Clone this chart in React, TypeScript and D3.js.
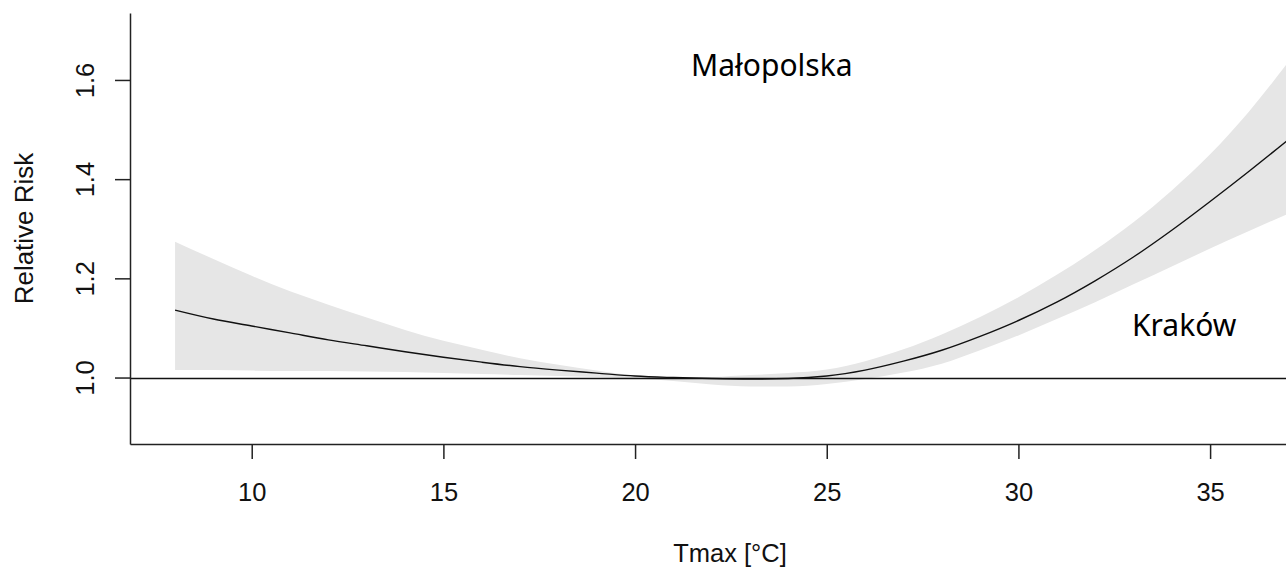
import React, { useEffect, useRef } from "react";
import * as d3 from "d3";

// ---- data ----
const tmax = [8, 9, 10, 11, 12, 13, 14, 15, 16, 17, 18, 19, 20, 21, 22, 23, 24, 25, 26, 27, 28, 29, 30, 31, 32, 33, 34, 35, 36, 37];
const rr = [1.136, 1.118, 1.104, 1.09, 1.076, 1.064, 1.052, 1.041, 1.031, 1.022, 1.015, 1.009, 1.003, 1.0, 0.998, 0.997, 0.998, 1.003, 1.015, 1.033, 1.055, 1.083, 1.115, 1.152, 1.195, 1.243, 1.297, 1.355, 1.415, 1.477];
const rrHigh = [1.274, 1.239, 1.205, 1.174, 1.147, 1.121, 1.096, 1.074, 1.056, 1.039, 1.026, 1.014, 1.004, 1.0, 1.001, 1.005, 1.009, 1.016, 1.033, 1.057, 1.087, 1.122, 1.162, 1.207, 1.257, 1.313, 1.377, 1.45, 1.535, 1.632];
const rrLow = [1.015, 1.015, 1.014, 1.013, 1.013, 1.012, 1.011, 1.009, 1.007, 1.005, 1.003, 1.001, 0.998, 0.993, 0.986, 0.982, 0.982, 0.987, 0.997, 1.01, 1.028, 1.055, 1.085, 1.118, 1.152, 1.188, 1.224, 1.26, 1.295, 1.329];
const xTicks = [10, 15, 20, 25, 30, 35];
const yTicks = [1.0, 1.2, 1.4, 1.6];
const xDomain = [6.825, 36.98];
const yDomain = [0.866, 1.735];
const refValue = 1.0;
const xTitle = "Tmax [°C]";
const yTitle = "Relative Risk";
const regionLabel = "Małopolska";
const cityLabel = "Kraków";

const W = 1286;
const H = 572;

export default function App() {
  const ref = useRef<SVGSVGElement | null>(null);

  useEffect(() => {
    document.body.style.margin = "0";
    const svg = d3.select(ref.current);
    svg.selectAll("*").remove();

    const x = d3.scaleLinear().domain(xDomain).range([130, 1286]);
    const y = d3.scaleLinear().domain(yDomain).range([444, 13]);

    const pts = tmax.map((t, i) => ({ t, m: rr[i], lo: rrLow[i], hi: rrHigh[i] }));

    const area = d3
      .area<any>()
      .x((d) => x(d.t))
      .y0((d) => y(d.lo))
      .y1((d) => y(d.hi))
      .curve(d3.curveMonotoneX);
    svg.append("path").attr("d", area(pts)).attr("fill", "#e6e6e6").attr("stroke", "none");

    const line = d3
      .line<any>()
      .x((d) => x(d.t))
      .y((d) => y(d.m))
      .curve(d3.curveMonotoneX);
    svg.append("path").attr("d", line(pts)).attr("fill", "none").attr("stroke", "#111").attr("stroke-width", 1.4);

    svg
      .append("line")
      .attr("x1", 130)
      .attr("x2", W)
      .attr("y1", Math.round(y(refValue)) + 0.5)
      .attr("y2", Math.round(y(refValue)) + 0.5)
      .attr("stroke", "#111")
      .attr("stroke-width", 1.4);

    const font = "'Liberation Sans', Arial, sans-serif";

    const gx = svg
      .append("g")
      .attr("transform", "translate(0,444)")
      .call(d3.axisBottom(x).tickValues(xTicks).tickSize(15).tickSizeOuter(0).tickPadding(0).tickFormat(d3.format("d") as any));
    gx.select(".domain").attr("stroke", "#222").attr("stroke-width", 1.5);
    gx.selectAll(".tick line").attr("stroke", "#222").attr("stroke-width", 1.5);
    gx.selectAll(".tick text")
      .attr("y", 57)
      .attr("dy", null)
      .attr("fill", "#111")
      .style("font-family", font)
      .style("font-size", "25.5px");

    const gy = svg
      .append("g")
      .attr("transform", "translate(130,0)")
      .call(d3.axisLeft(y).tickValues(yTicks).tickSize(15).tickSizeOuter(0).tickFormat(d3.format(".1f") as any));
    gy.select(".domain").attr("stroke", "#222").attr("stroke-width", 1.5);
    gy.selectAll(".tick line").attr("stroke", "#222").attr("stroke-width", 1.5);
    gy.selectAll(".tick text")
      .attr("x", null)
      .attr("dy", null)
      .attr("text-anchor", "middle")
      .attr("transform", "translate(-36,0) rotate(-90)")
      .attr("fill", "#111")
      .style("font-family", font)
      .style("font-size", "25.5px");

    svg
      .append("text")
      .attr("x", 730)
      .attr("y", 562)
      .attr("text-anchor", "middle")
      .attr("fill", "#111")
      .style("font-family", font)
      .style("font-size", "25.5px")
      .text(xTitle);

    svg
      .append("text")
      .attr("transform", `translate(33,${(13 + 444) / 2}) rotate(-90)`)
      .attr("text-anchor", "middle")
      .attr("fill", "#111")
      .style("font-family", font)
      .style("font-size", "26px")
      .text(yTitle);

    const font2 = "'Noto Sans', 'Open Sans', sans-serif";
    svg
      .append("text")
      .attr("x", 691)
      .attr("y", 76)
      .attr("fill", "#000")
      .style("font-family", font2)
      .style("font-size", "30px")
      .text(regionLabel);
    svg
      .append("text")
      .attr("x", 1132)
      .attr("y", 336)
      .attr("fill", "#000")
      .style("font-family", font2)
      .style("font-size", "30px")
      .text(cityLabel);
  }, []);

  return (
    <div style={{ position: "absolute", left: 0, top: 0 }}>
      <svg ref={ref} width={W} height={H} style={{ display: "block", background: "#fff" }} />
    </div>
  );
}
